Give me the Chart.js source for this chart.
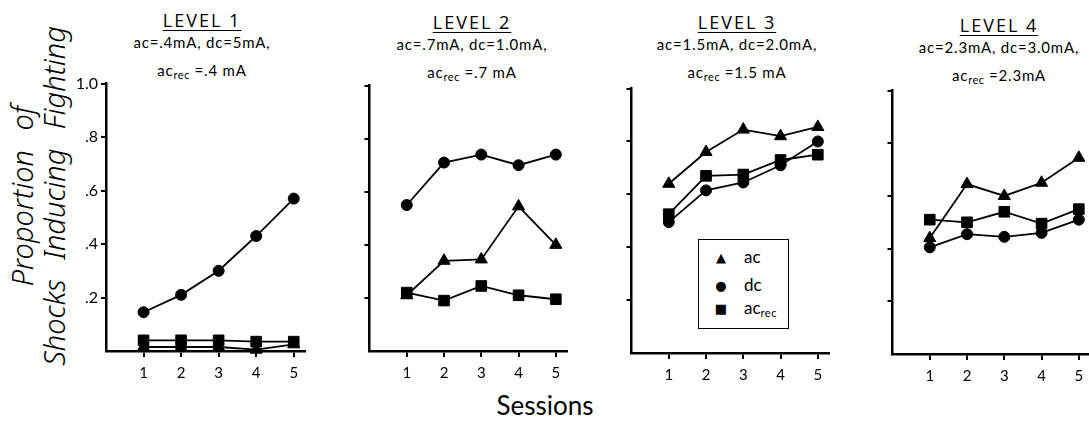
<!DOCTYPE html>
<html>
<head>
<meta charset="utf-8">
<script src="https://cdn.jsdelivr.net/npm/chart.js@4"></script>
<style>
  body { margin: 0; width: 1089px; height: 427px; overflow: hidden; background: #fff; position: relative;
         font-family: Lato, "Open Sans", sans-serif; color: #000; }
  canvas { position: absolute; }
  .head { position: absolute; width: 220px; height: 90px; text-align: center; }
  .head div { position: absolute; left: 0; width: 100%; white-space: nowrap; }
  .level { top: 0; font-family: "Open Sans", sans-serif; font-weight: 400; font-size: 18px; line-height: 20px; color: #000;
           text-decoration: underline; text-decoration-thickness: 1px; text-underline-offset: 3px; letter-spacing: 2px; }
  .sub1 { top: 24px; font-size: 15px; line-height: 16px; letter-spacing: 0.8px; }
  .sub2 { top: 52px; font-size: 15px; line-height: 16px; letter-spacing: 0.8px; }
  sub { font-size: 11px; vertical-align: -3px; line-height: 0; letter-spacing: 0.5px; }
  #ytitle { position: absolute; left: -132px; top: 164px; width: 340px; height: 64px; transform: rotate(-90deg);
            font-family: "Noto Sans", sans-serif; font-style: italic; font-weight: 300; font-size: 29px;
            line-height: 32px; text-align: center; word-spacing: 12px; white-space: nowrap; }
  #xtitle { position: absolute; left: 445px; width: 200px; top: 390px; text-align: center; font-size: 26px; line-height: 30px; }
  #legend { position: absolute; left: 698px; top: 239px; width: 89px; height: 88px; border: 1.5px solid #000; background: #fff; }
  #legend div { position: absolute; font-size: 17px; line-height: 18px; }
  #legend .sym { left: 14px; width: 16px; text-align: center; font-family: "DejaVu Sans", sans-serif; font-size: 13px; }
  #legend .lab { left: 45px; }
</style>
</head>
<body>
<div id="ytitle">Proportion of<br>Shocks Inducing Fighting</div>
<div id="xtitle">Sessions</div>

<div class="head" style="left:92px;top:10px"><div class="level">LEVEL 1</div><div class="sub1">ac=.4mA, dc=5mA,</div><div class="sub2">ac<sub>rec</sub> =.4 mA</div></div>
<div class="head" style="left:362px;top:12px"><div class="level">LEVEL 2</div><div class="sub1">ac=.7mA, dc=1.0mA,</div><div class="sub2">ac<sub>rec</sub> =.7 mA</div></div>
<div class="head" style="left:627px;top:12px"><div class="level">LEVEL 3</div><div class="sub1">ac=1.5mA, dc=2.0mA,</div><div class="sub2">ac<sub>rec</sub> =1.5 mA</div></div>
<div class="head" style="left:889px;top:15px"><div class="level">LEVEL 4</div><div class="sub1">ac=2.3mA, dc=3.0mA,</div><div class="sub2">ac<sub>rec</sub> =2.3mA</div></div>

<canvas id="c1"></canvas>
<canvas id="c2"></canvas>
<canvas id="c3"></canvas>
<canvas id="c4"></canvas>

<div id="legend">
  <div class="sym" style="top:9px">▲</div><div class="lab" style="top:8px">ac</div>
  <div class="sym" style="top:37px">●</div><div class="lab" style="top:36px">dc</div>
  <div class="sym" style="top:60px">■</div><div class="lab" style="top:59px">ac<sub>rec</sub></div>
</div>

<script>
// sessions on the x axis
const sessions = [1, 2, 3, 4, 5];
const yTickValues = [0.2, 0.4, 0.6, 0.8, 1.0];
const yTickLabels = [".2", ".4", ".6", ".8", "1.0"];

// Level 1
const level1Ac = [0.015, 0.015, 0.015, 0.005, 0.025];
const level1Dc = [0.145, 0.21, 0.30, 0.43, 0.57];
const level1AcRec = [0.04, 0.04, 0.04, 0.035, 0.035];
// Level 2
const level2Ac = [0.21, 0.34, 0.345, 0.545, 0.40];
const level2Dc = [0.55, 0.71, 0.74, 0.70, 0.74];
const level2AcRec = [0.22, 0.19, 0.245, 0.21, 0.195];
// Level 3
const level3Ac = [0.64, 0.76, 0.845, 0.82, 0.855];
const level3Dc = [0.495, 0.615, 0.645, 0.71, 0.80];
const level3AcRec = [0.525, 0.67, 0.675, 0.73, 0.75];
// Level 4
const level4Ac = [0.44, 0.645, 0.60, 0.65, 0.745];
const level4Dc = [0.405, 0.455, 0.445, 0.46, 0.51];
const level4AcRec = [0.51, 0.50, 0.54, 0.495, 0.55];

// chart area of each panel on the page (left, top, right, bottom)
const panelAreas = [
  [106, 83, 305, 351],
  [369, 85, 567, 351],
  [631, 88, 829, 353],
  [892, 90, 1090, 354]
];

const PAD = 12;
const X_AXIS_H = 40;

function series(values, style, radius) {
  return {
    data: values.map((v, i) => ({ x: sessions[i], y: v })),
    borderColor: "#000",
    backgroundColor: "#000",
    borderWidth: 1.8,
    pointStyle: style,
    pointRadius: radius,
    pointBorderWidth: 1,
    tension: 0,
    clip: false
  };
}

function makePanel(id, area, ac, dc, acRec, showLabels) {
  const yw = showLabels ? 46 : 8;
  const [l, t, r, b] = area;
  const canvas = document.getElementById(id);
  canvas.width = yw + (r - l) + PAD;
  canvas.height = PAD + (b - t) + X_AXIS_H;
  canvas.style.left = (l - yw) + "px";
  canvas.style.top = (t - PAD) + "px";

  new Chart(canvas.getContext("2d"), {
    type: "line",
    data: {
      datasets: [
        series(dc, "circle", 5.5),
        series(acRec, "rect", 7.5),
        series(ac, "triangle", 7)
      ]
    },
    options: {
      responsive: false,
      animation: false,
      layout: { padding: { top: PAD, right: PAD, left: 0, bottom: 0 } },
      plugins: { legend: { display: false }, tooltip: { enabled: false } },
      scales: {
        x: {
          type: "linear",
          min: 0,
          max: 5.3,
          afterBuildTicks: (s) => { s.ticks = sessions.map((v) => ({ value: v })); },
          afterFit: (s) => { s.height = X_AXIS_H; },
          grid: { drawOnChartArea: false, color: "#000", lineWidth: 2, tickLength: 6 },
          border: { color: "#000", width: 2.5 },
          ticks: {
            color: "#000",
            font: { family: "Lato, 'Open Sans', sans-serif", size: 15 },
            padding: 7,
            maxRotation: 0,
            autoSkip: false,
            callback: (v) => String(v)
          }
        },
        y: {
          min: 0,
          max: 1,
          afterBuildTicks: (s) => { s.ticks = yTickValues.map((v) => ({ value: v })); },
          afterFit: (s) => { s.width = yw; },
          grid: { drawOnChartArea: false, color: "#000", lineWidth: 2, tickLength: 5 },
          border: { color: "#000", width: 2.5 },
          ticks: {
            color: "#000",
            font: { family: "Lato, 'Open Sans', sans-serif", size: 16 },
            padding: 3,
            callback: (v, i) => (showLabels ? yTickLabels[i] : "")
          }
        }
      }
    }
  });
}

makePanel("c1", panelAreas[0], level1Ac, level1Dc, level1AcRec, true);
makePanel("c2", panelAreas[1], level2Ac, level2Dc, level2AcRec, false);
makePanel("c3", panelAreas[2], level3Ac, level3Dc, level3AcRec, false);
makePanel("c4", panelAreas[3], level4Ac, level4Dc, level4AcRec, false);
</script>
</body>
</html>
